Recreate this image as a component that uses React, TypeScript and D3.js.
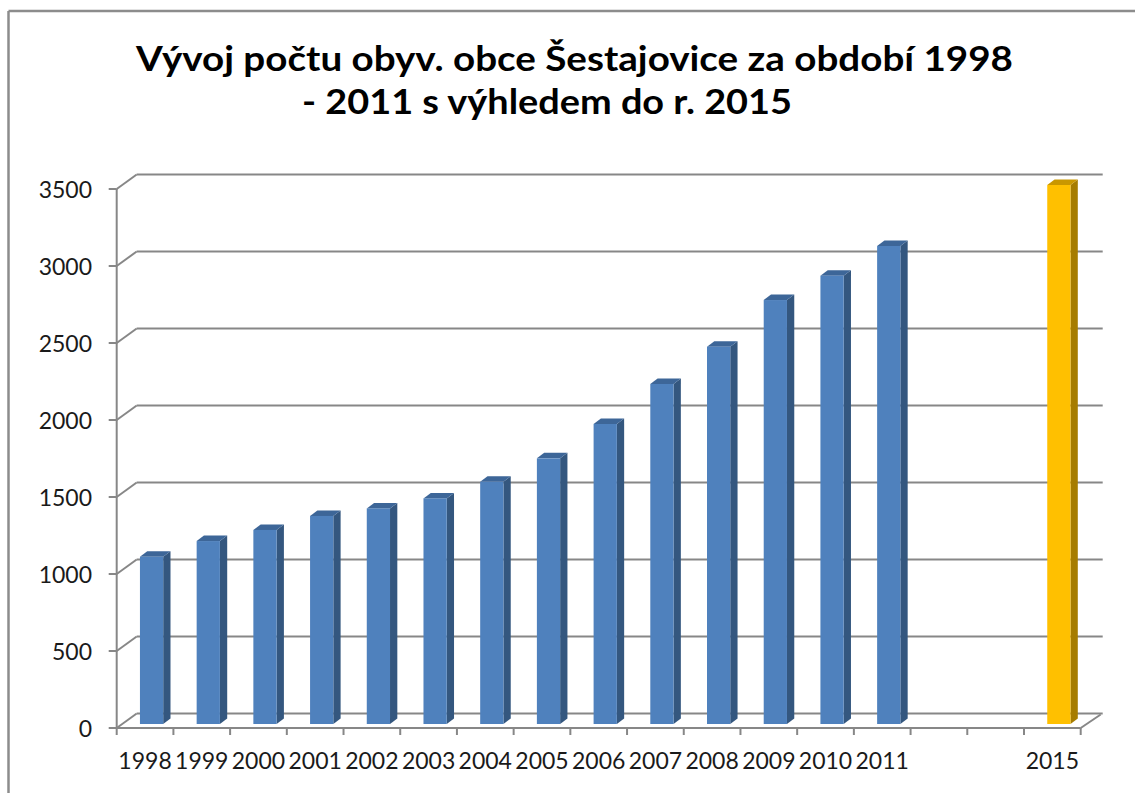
import React from "react";
import * as d3 from "d3";

const categories: string[] = [
  "1998", "1999", "2000", "2001", "2002", "2003", "2004", "2005", "2006",
  "2007", "2008", "2009", "2010", "2011", "", "", "2015",
];
const values: (number | null)[] = [
  1086, 1188, 1260, 1351, 1400, 1465, 1573, 1725, 1948, 2208, 2450, 2753,
  2911, 3104, null, null, 3500,
];
const isForecast: boolean[] = categories.map((c) => c === "2015");
const yTicks: number[] = [0, 500, 1000, 1500, 2000, 2500, 3000, 3500];
const titleLines: string[] = [
  "Vývoj počtu obyv. obce Šestajovice za období 1998",
  "- 2011 s výhledem do r. 2015",
];

const W = 1135;
const H = 793;
const AX_LEFT = 116.7;
const AX_RIGHT = 1080.7;
const Y0 = 728;
const Y1 = 189;
const DEPTH_X = 20;
const DEPTH_Y = 14.5;
const BAR_SHIFT_Y = 4;
const BAR_DX = 7.3;
const BAR_DY = 5.5;

const GRID = "#878787";
const TEXT = "#1a1a1a";
const FONT = "Lato, 'Open Sans', sans-serif";

export default function App() {
  const x = d3
    .scaleBand<number>()
    .domain(d3.range(categories.length))
    .range([AX_LEFT, AX_RIGHT])
    .paddingInner(0)
    .paddingOuter(0);
  const y = d3.scaleLinear().domain([0, 3500]).range([Y0, Y1]);
  const bw = x.bandwidth();

  const colors = (f: boolean) =>
    f
      ? { front: "#FFC000", side: "#A67C00", top: "#C99700" }
      : { front: "#4F81BD", side: "#34577F", top: "#3D6698" };

  return (
    <svg
      width={W}
      height={H}
      style={{ position: "absolute", left: 0, top: 0, background: "#fff" }}
    >
      {/* chart border */}
      <line x1={8.5} y1={11} x2={W} y2={11} stroke="#8c8c8c" strokeWidth={2.5} />
      <line x1={8.5} y1={11} x2={8.5} y2={H} stroke="#8c8c8c" strokeWidth={2.5} />

      {/* title */}
      <text
        x={136}
        y={71}
        textAnchor="start"
        fontFamily={FONT}
        fontWeight="bold"
        fontSize={34}
        fill="#000"
        textLength={877}
        lengthAdjust="spacingAndGlyphs"
      >
        {titleLines[0]}
      </text>
      <text
        x={302}
        y={114}
        textAnchor="start"
        fontFamily={FONT}
        fontWeight="bold"
        fontSize={34}
        fill="#000"
        textLength={490}
        lengthAdjust="spacingAndGlyphs"
      >
        {titleLines[1]}
      </text>

      {/* back wall gridlines + left wall diagonals */}
      {yTicks.map((t) => (
        <g key={"g" + t}>
          <line
            x1={AX_LEFT + DEPTH_X}
            x2={AX_RIGHT + DEPTH_X + 2}
            y1={y(t) - DEPTH_Y}
            y2={y(t) - DEPTH_Y}
            stroke={GRID}
            strokeWidth={2}
          />
          <line
            x1={AX_LEFT}
            y1={y(t)}
            x2={AX_LEFT + DEPTH_X}
            y2={y(t) - DEPTH_Y}
            stroke={GRID}
            strokeWidth={2}
          />
          <line
            x1={AX_LEFT - 8}
            x2={AX_LEFT}
            y1={y(t)}
            y2={y(t)}
            stroke={GRID}
            strokeWidth={2}
          />
          <text
            x={92}
            y={y(t) + 8.5}
            textAnchor="end"
            fontFamily={FONT}
            fontSize={23}
            fill={TEXT}
          >
            {t}
          </text>
        </g>
      ))}

      {/* floor edges */}
      <line
        x1={AX_RIGHT}
        y1={Y0}
        x2={AX_RIGHT + DEPTH_X}
        y2={Y0 - DEPTH_Y + 1}
        stroke={GRID}
        strokeWidth={2}
      />

      {/* vertical axis */}
      <line x1={AX_LEFT} x2={AX_LEFT} y1={y(3500)} y2={Y0} stroke={GRID} strokeWidth={2} />

      {/* bars */}
      {values.map((v, i) => {
        if (v == null) return null;
        const c = colors(isForecast[i]);
        const x0 = (x(i) as number) + bw * 0.41;
        const x1 = x0 + bw * 0.41;
        const yb = y(0) - BAR_SHIFT_Y;
        const yt = y(v) - BAR_SHIFT_Y;
        return (
          <g key={"b" + i}>
            <polygon
              points={`${x1},${yt} ${x1 + BAR_DX},${yt - BAR_DY} ${x1 + BAR_DX},${yb - BAR_DY} ${x1},${yb}`}
              fill={c.side}
            />
            <polygon
              points={`${x0},${yt} ${x0 + BAR_DX},${yt - BAR_DY} ${x1 + BAR_DX},${yt - BAR_DY} ${x1},${yt}`}
              fill={c.top}
            />
            <rect x={x0} y={yt} width={x1 - x0} height={yb - yt} fill={c.front} />
          </g>
        );
      })}

      {/* x axis (front floor edge) */}
      <line x1={AX_LEFT} x2={AX_RIGHT} y1={Y0} y2={Y0} stroke={GRID} strokeWidth={2} />
      {d3.range(categories.length + 1).map((i) => {
        const xx = AX_LEFT + i * bw;
        return (
          <line
            key={"t" + i}
            x1={xx}
            x2={xx}
            y1={Y0}
            y2={Y0 + 7}
            stroke={GRID}
            strokeWidth={2}
          />
        );
      })}
      {categories.map((c, i) =>
        c ? (
          <text
            key={"l" + i}
            x={(x(i) as number) + bw / 2}
            y={769}
            textAnchor="middle"
            fontFamily={FONT}
            fontSize={23}
            fill={TEXT}
          >
            {c}
          </text>
        ) : null
      )}
    </svg>
  );
}
